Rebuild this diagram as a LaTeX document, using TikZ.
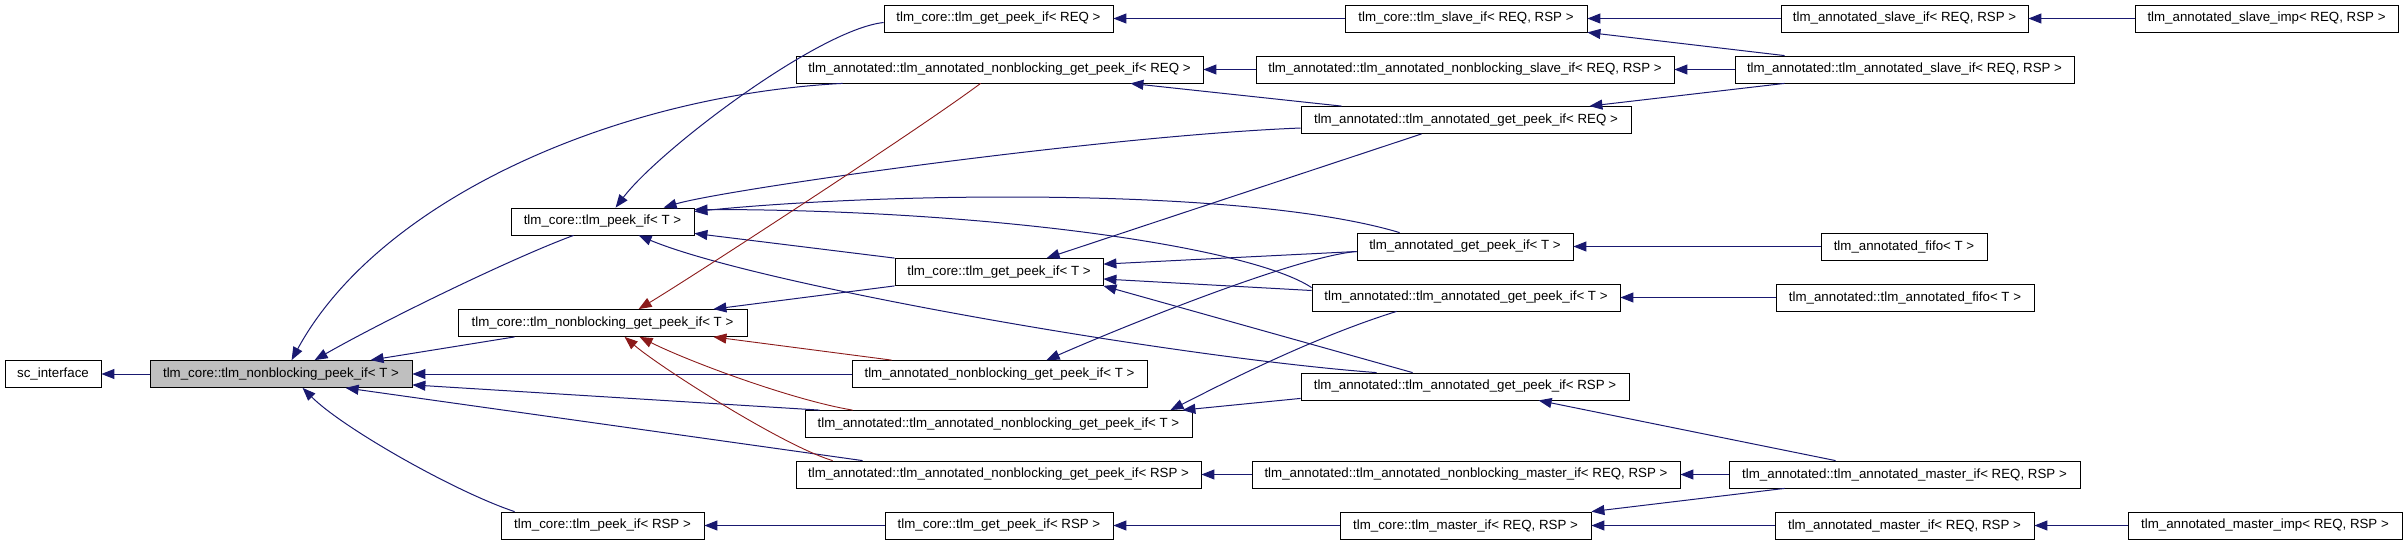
\documentclass[tikz,border=0pt]{standalone}
\usepackage{fontspec}
\setmainfont{Liberation Sans}
\usepackage{tikz}
\usetikzlibrary{arrows.meta}
\definecolor{inhblue}{RGB}{25,25,112}
\definecolor{privred}{RGB}{139,26,26}

\begin{document}
\begin{tikzpicture}[x=1pt,y=-1pt,
	cls/.style={draw=black,line width=0.8pt,fill=white,minimum height=27pt,inner xsep=2pt,inner ysep=0pt,font=\fontsize{13.3}{15}\selectfont},
	cur/.style={cls,fill=black!25},
	pub/.style={draw=inhblue,line width=1pt,-{Triangle[length=13pt,width=10pt]}},
	priv/.style={draw=privred,line width=0.9pt,-{Triangle[length=13pt,width=10pt]}}]
	\useasboundingbox (0,0) rectangle (2408,544);
	\node[cls,minimum width=96pt] (sc) at (53,374) {sc\_interface};
	\node[cur,minimum width=262pt] (nbpeekT) at (281,374) {tlm\_core::tlm\_nonblocking\_peek\_if< T >};
	\node[cls,minimum width=183pt] (peekT) at (602.5,221.5) {tlm\_core::tlm\_peek\_if< T >};
	\node[cls,minimum width=289pt] (nbgetpeekT) at (602.5,323) {tlm\_core::tlm\_nonblocking\_get\_peek\_if< T >};
	\node[cls,minimum width=203pt] (peekRSP) at (602.5,525.5) {tlm\_core::tlm\_peek\_if< RSP >};
	\node[cls,minimum width=229pt] (getpeekREQ) at (998.5,18.5) {tlm\_core::tlm\_get\_peek\_if< REQ >};
	\node[cls,minimum width=407pt] (annNbGetPeekREQ) at (999.5,69.5) {tlm\_annotated::tlm\_annotated\_nonblocking\_get\_peek\_if< REQ >};
	\node[cls,minimum width=208pt] (getpeekT) at (999,272) {tlm\_core::tlm\_get\_peek\_if< T >};
	\node[cls,minimum width=295pt] (annNbGetPeekTp) at (999.5,374) {tlm\_annotated\_nonblocking\_get\_peek\_if< T >};
	\node[cls,minimum width=387pt] (annNbGetPeekT) at (998.5,424) {tlm\_annotated::tlm\_annotated\_nonblocking\_get\_peek\_if< T >};
	\node[cls,minimum width=405pt] (annNbGetPeekRSP) at (998.5,474.5) {tlm\_annotated::tlm\_annotated\_nonblocking\_get\_peek\_if< RSP >};
	\node[cls,minimum width=228pt] (getpeekRSP) at (999,525.5) {tlm\_core::tlm\_get\_peek\_if< RSP >};
	\node[cls,minimum width=242pt] (slaveIf) at (1466,18.5) {tlm\_core::tlm\_slave\_if< REQ, RSP >};
	\node[cls,minimum width=418pt] (annNbSlaveIf) at (1465,69.5) {tlm\_annotated::tlm\_annotated\_nonblocking\_slave\_if< REQ, RSP >};
	\node[cls,minimum width=330pt] (annGetPeekREQ) at (1466,120) {tlm\_annotated::tlm\_annotated\_get\_peek\_if< REQ >};
	\node[cls,minimum width=216pt] (annGetPeekTp) at (1465,246.5) {tlm\_annotated\_get\_peek\_if< T >};
	\node[cls,minimum width=308pt] (annGetPeekT) at (1466,297.5) {tlm\_annotated::tlm\_annotated\_get\_peek\_if< T >};
	\node[cls,minimum width=328pt] (annGetPeekRSP) at (1465,386.5) {tlm\_annotated::tlm\_annotated\_get\_peek\_if< RSP >};
	\node[cls,minimum width=428pt] (annNbMasterIf) at (1466,474.5) {tlm\_annotated::tlm\_annotated\_nonblocking\_master\_if< REQ, RSP >};
	\node[cls,minimum width=251pt] (masterIf) at (1465.5,525.5) {tlm\_core::tlm\_master\_if< REQ, RSP >};
	\node[cls,minimum width=247pt] (annSlaveIfp) at (1904.5,18.5) {tlm\_annotated\_slave\_if< REQ, RSP >};
	\node[cls,minimum width=339pt] (annSlaveIf) at (1904.5,69.5) {tlm\_annotated::tlm\_annotated\_slave\_if< REQ, RSP >};
	\node[cls,minimum width=166pt] (annFifoTp) at (1904,246.5) {tlm\_annotated\_fifo< T >};
	\node[cls,minimum width=258pt] (annFifoT) at (1905,297.5) {tlm\_annotated::tlm\_annotated\_fifo< T >};
	\node[cls,minimum width=351pt] (annMasterIf) at (1904.5,474.5) {tlm\_annotated::tlm\_annotated\_master\_if< REQ, RSP >};
	\node[cls,minimum width=259pt] (annMasterIfp) at (1904.5,525.5) {tlm\_annotated\_master\_if< REQ, RSP >};
	\node[cls,minimum width=263pt] (slaveImp) at (2266.5,18.5) {tlm\_annotated\_slave\_imp< REQ, RSP >};
	\node[cls,minimum width=274pt] (masterImp) at (2265,525.5) {tlm\_annotated\_master\_imp< REQ, RSP >};
	\draw[pub] (nbpeekT.west) -- (sc.east);
	\draw[pub] ([xshift=47pt]annNbGetPeekREQ.south west) .. controls +(-228,12) and +(87,-160) .. ([xshift=142pt]nbpeekT.north west);
	\draw[pub] ([xshift=63pt]peekT.south west) .. controls +(-60,22) and +(70,-40) .. ([xshift=165pt]nbpeekT.north west);
	\draw[pub] ([xshift=57pt]nbgetpeekT.south west) -- ([xshift=221pt]nbpeekT.north west);
	\draw[pub] (annNbGetPeekTp.west) -- (nbpeekT.east);
	\draw[pub] ([xshift=15pt]annNbGetPeekT.north west) -- ([yshift=3pt]nbpeekT.south east);
	\draw[pub] ([xshift=67pt]annNbGetPeekRSP.north west) -- ([xshift=196pt]nbpeekT.south west);
	\draw[pub] ([xshift=14pt]peekRSP.north west) .. controls +(-60,-20) and +(40,40) .. ([xshift=153pt]nbpeekT.south west);
	\draw[pub] ([yshift=-4pt]getpeekREQ.west) .. controls +(-65,7) and +(44,-58) .. ([xshift=105pt]peekT.north west);
	\draw[pub] ([yshift=-8pt]annGetPeekREQ.west) .. controls +(-200,8) and +(60,-18) .. ([xshift=153pt]peekT.north west);
	\draw[pub] ([xshift=43pt]annGetPeekTp.north west) .. controls +(-150,-45) and +(200,-20) .. ([yshift=10pt]peekT.east);
	\draw[pub] ([yshift=-4pt]annGetPeekT.north west) .. controls +(-60,-40) and +(300,0) .. ([yshift=12pt]peekT.east);
	\draw[pub] (getpeekT.north west) -- ([yshift=2pt]peekT.south east);
	\draw[pub] ([xshift=76pt]annGetPeekRSP.north west) .. controls +(-200,-15) and +(120,50) .. ([xshift=128pt]peekT.south west);
	\draw[priv] ([xshift=185pt]annNbGetPeekREQ.south west) .. controls +(-60,45) and +(50,-30) .. ([xshift=181pt]nbgetpeekT.north west);
	\draw[pub] (getpeekT.south west) -- ([xshift=-34pt]nbgetpeekT.north east);
	\draw[priv] ([xshift=40pt]annNbGetPeekTp.north west) -- ([xshift=-34pt]nbgetpeekT.south east);
	\draw[priv] ([xshift=48pt]annNbGetPeekT.north west) .. controls +(-60,-10) and +(50,25) .. ([xshift=182pt]nbgetpeekT.south west);
	\draw[priv] ([xshift=37pt]annNbGetPeekRSP.north west) .. controls +(-50,-15) and +(35,30) .. ([xshift=167pt]nbgetpeekT.south west);
	\draw[pub] ([xshift=121pt]annGetPeekREQ.south west) -- ([xshift=152pt]getpeekT.north west);
	\draw[pub] ([yshift=-5pt]annGetPeekTp.west) -- ([yshift=-6pt]getpeekT.north east);
	\draw[pub] ([yshift=7pt]annGetPeekT.west) -- ([yshift=-7pt]getpeekT.east);
	\draw[pub] ([xshift=112pt]annGetPeekRSP.north west) -- (getpeekT.south east);
	\draw[pub] ([yshift=-5pt]annGetPeekTp.west) .. controls +(-60,5) and +(80,-35) .. ([xshift=195pt]annNbGetPeekTp.north west);
	\draw[pub] ([xshift=85pt]annGetPeekT.south west) .. controls +(-90,28) and +(40,-20) .. ([xshift=-22pt]annNbGetPeekT.north east);
	\draw[pub] ([yshift=2pt]annGetPeekRSP.south west) -- ([xshift=-10pt]annNbGetPeekT.north east);
	\draw[pub] (annNbSlaveIf.west) -- (annNbGetPeekREQ.east);
	\draw[pub] ([xshift=41pt]annGetPeekREQ.north west) -- ([xshift=-73pt]annNbGetPeekREQ.south east);
	\draw[pub] (slaveIf.west) -- (getpeekREQ.east);
	\draw[pub] (annSlaveIfp.west) -- (slaveIf.east);
	\draw[pub] (slaveImp.west) -- (annSlaveIfp.east);
	\draw[pub] ([xshift=50pt]annSlaveIf.north west) -- (slaveIf.south east);
	\draw[pub] (annSlaveIf.west) -- (annNbSlaveIf.east);
	\draw[pub] ([xshift=50pt]annSlaveIf.south west) -- ([xshift=-42pt]annGetPeekREQ.north east);
	\draw[pub] (annFifoTp.west) -- (annGetPeekTp.east);
	\draw[pub] (annFifoT.west) -- (annGetPeekT.east);
	\draw[pub] ([xshift=107pt]annMasterIf.north west) -- ([xshift=238pt]annGetPeekRSP.south west);
	\draw[pub] (annMasterIf.west) -- (annNbMasterIf.east);
	\draw[pub] ([xshift=56pt]annMasterIf.south west) -- (masterIf.north east);
	\draw[pub] (annMasterIfp.west) -- (masterIf.east);
	\draw[pub] (masterImp.west) -- (annMasterIfp.east);
	\draw[pub] (annNbMasterIf.west) -- (annNbGetPeekRSP.east);
	\draw[pub] (masterIf.west) -- (getpeekRSP.east);
	\draw[pub] (getpeekRSP.west) -- (peekRSP.east);
\end{tikzpicture}
\end{document}
